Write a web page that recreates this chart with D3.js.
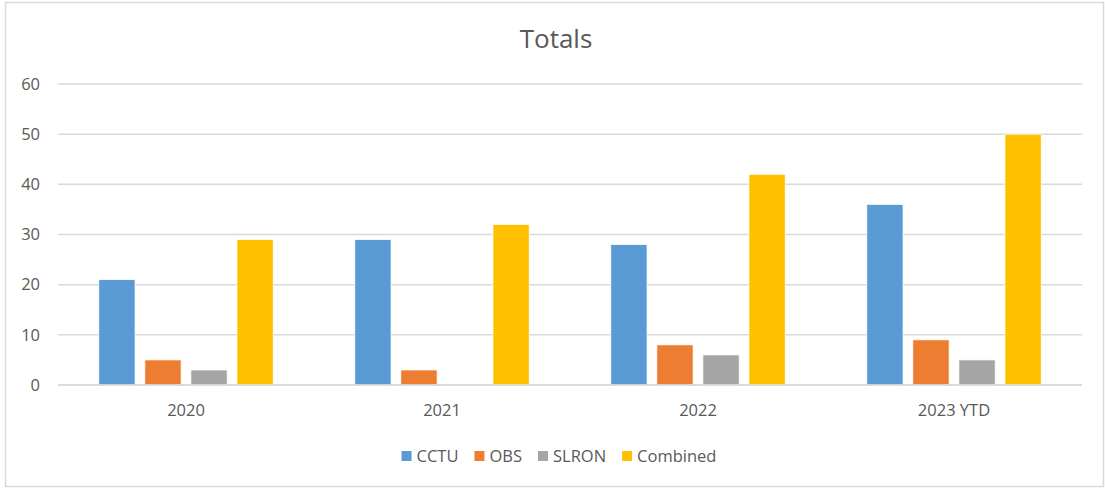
<!DOCTYPE html>
<html>
<head>
<meta charset="utf-8">
<style>
    body { margin: 0; background: #ffffff; }
    text { font-family: "Open Sans", "Noto Sans", sans-serif; fill: #595959; }
</style>
</head>
<body>
<div class="board"></div>
<script src="https://d3js.org/d3.v7.min.js"></script>
<script>
    // chart data
    const years = ["2020", "2021", "2022", "2023 YTD"]
    const seriesNames = ["CCTU", "OBS", "SLRON", "Combined"]
    const cctu = [21, 29, 28, 36]
    const obs = [5, 3, 8, 9]
    const slron = [3, 0, 6, 5]
    const combined = [29, 32, 42, 50]
    const yTicks = [0, 10, 20, 30, 40, 50, 60]

    const COLORS = ["#5B9BD5", "#ED7D31", "#A5A5A5", "#FFC000"]

    const W = 1105, H = 488
    const margin = { top: 84, right: 23, bottom: 103, left: 58 }
    const FONT = "16.5px"

    const svg = d3.select(".board").append("svg")
        .attr("width", W)
        .attr("height", H)

    // outer frame
    svg.append("rect")
        .attr("x", 5.5).attr("y", 2.5)
        .attr("width", W - 7).attr("height", H - 4)
        .attr("fill", "white")
        .attr("stroke", "#d9d9d9")
        .attr("stroke-width", 1.5)

    svg.append("text")
        .attr("x", 556).attr("y", 48)
        .attr("text-anchor", "middle")
        .style("font-size", "26px")
        .text("Totals")

    const x = d3.scaleBand()
        .domain(years)
        .range([margin.left, W - margin.right])

    const y = d3.scaleLinear()
        .domain([0, 60])
        .range([H - margin.bottom, margin.top])

    // gap width 225%, overlap -27%
    const bw = x.bandwidth() / (4 + 3 * 0.27 + 2.25)
    const inner = d3.scaleBand()
        .domain(seriesNames)
        .range([bw * 1.125, x.bandwidth() - bw * 1.125])
        .paddingInner(0.27 / 1.27)

    // gridlines
    svg.append("g").selectAll("line")
        .data(yTicks)
        .enter()
        .append("line")
        .attr("x1", margin.left)
        .attr("x2", W - margin.right)
        .attr("y1", d => y(d))
        .attr("y2", d => y(d))
        .attr("stroke", "#d9d9d9")
        .attr("stroke-width", 1.5)

    svg.append("g").selectAll("text")
        .data(yTicks)
        .enter()
        .append("text")
        .attr("x", 40)
        .attr("y", d => y(d))
        .attr("dy", "0.35em")
        .attr("text-anchor", "end")
        .style("font-size", FONT)
        .text(d => d)

    const rows = years.map((yr, i) => ({
        year: yr,
        values: [cctu[i], obs[i], slron[i], combined[i]]
    }))

    const groups = svg.append("g").selectAll("g")
        .data(rows)
        .enter()
        .append("g")
        .attr("transform", d => "translate(" + x(d.year) + ",0)")

    groups.selectAll("rect")
        .data(d => d.values.map((v, j) => ({ name: seriesNames[j], v: v, j: j })))
        .enter()
        .append("rect")
        .attr("x", d => inner(d.name))
        .attr("width", inner.bandwidth())
        .attr("y", d => y(d.v))
        .attr("height", d => y(0) - y(d.v))
        .attr("fill", d => COLORS[d.j])
        .attr("stroke", "white")
        .attr("stroke-width", 0.75)

    // redraw baseline over bars
    svg.append("line")
        .attr("x1", margin.left).attr("x2", W - margin.right)
        .attr("y1", y(0)).attr("y2", y(0))
        .attr("stroke", "#d9d9d9").attr("stroke-width", 1.5)

    svg.append("g").selectAll("text")
        .data(years)
        .enter()
        .append("text")
        .attr("x", d => x(d) + x.bandwidth() / 2)
        .attr("y", 410)
        .attr("dy", "0.35em")
        .attr("text-anchor", "middle")
        .style("font-size", FONT)
        .text(d => d)

    // legend
    const legend = svg.append("g")
    let lx = 0
    seriesNames.forEach((name, i) => {
        const item = legend.append("g").attr("transform", "translate(" + lx + ",0)")
        item.append("rect")
            .attr("x", 0).attr("y", 451)
            .attr("width", 10).attr("height", 10)
            .attr("fill", COLORS[i])
        const t = item.append("text")
            .attr("x", 15).attr("y", 456)
            .attr("dy", "0.35em")
            .style("font-size", FONT)
            .text(name)
        lx += 15 + t.node().getComputedTextLength() + 16
    })
    lx -= 16
    legend.attr("transform", "translate(" + (559 - lx / 2) + ",0)")
</script>
</body>
</html>
